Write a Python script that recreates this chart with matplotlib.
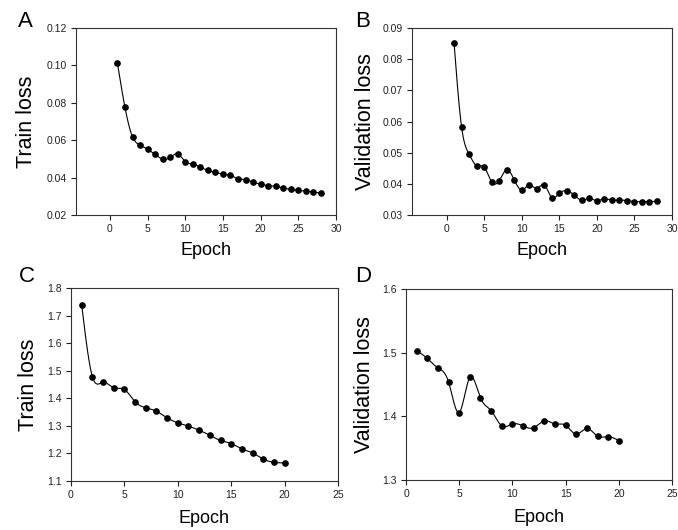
import numpy as np
import matplotlib
matplotlib.use("Agg")
import matplotlib.pyplot as plt

plt.rcParams['font.family'] = ['Liberation Sans', 'DejaVu Sans']

# ---- data ----
epochs_a = list(range(1, 29))
train_loss_a = [0.1011, 0.0775, 0.0618, 0.0574, 0.0551, 0.0524, 0.0499, 0.0508,
                0.0527, 0.0486, 0.0472, 0.0456, 0.0438, 0.0428, 0.0419, 0.0412,
                0.0394, 0.0389, 0.0376, 0.0365, 0.0357, 0.0353, 0.0344, 0.0337,
                0.0332, 0.0328, 0.0323, 0.0317]

epochs_b = list(range(1, 29))
val_loss_b = [0.0851, 0.0582, 0.0495, 0.0458, 0.0454, 0.0406, 0.0410, 0.0445,
              0.0413, 0.0380, 0.0396, 0.0385, 0.0397, 0.0356, 0.0370, 0.0377,
              0.0364, 0.0347, 0.0353, 0.0346, 0.0352, 0.0347, 0.0348, 0.0346,
              0.0343, 0.0343, 0.0343, 0.0344]

epochs_c = list(range(1, 21))
train_loss_c = [1.739, 1.479, 1.458, 1.438, 1.432, 1.387, 1.366, 1.353, 1.329,
                1.311, 1.299, 1.284, 1.266, 1.247, 1.236, 1.216, 1.202, 1.179,
                1.168, 1.165]

epochs_d = list(range(1, 21))
val_loss_d = [1.503, 1.491, 1.476, 1.454, 1.406, 1.461, 1.429, 1.409, 1.385,
              1.388, 1.385, 1.382, 1.393, 1.388, 1.386, 1.372, 1.381, 1.369,
              1.368, 1.362]


def natural_spline(x, y, n=30):
    x = np.asarray(x, float)
    y = np.asarray(y, float)
    N = len(x)
    h = np.diff(x)
    A = np.zeros((N, N))
    r = np.zeros(N)
    A[0, 0] = 1
    A[-1, -1] = 1
    for i in range(1, N - 1):
        A[i, i - 1] = h[i - 1]
        A[i, i] = 2 * (h[i - 1] + h[i])
        A[i, i + 1] = h[i]
        r[i] = 6 * ((y[i + 1] - y[i]) / h[i] - (y[i] - y[i - 1]) / h[i - 1])
    M = np.linalg.solve(A, r)
    xs, ys = [], []
    for i in range(N - 1):
        t = np.linspace(x[i], x[i + 1], n, endpoint=False)
        a = x[i + 1] - t
        b = t - x[i]
        s = (M[i] * a ** 3 + M[i + 1] * b ** 3) / (6 * h[i]) \
            + (y[i] / h[i] - M[i] * h[i] / 6) * a \
            + (y[i + 1] / h[i] - M[i + 1] * h[i] / 6) * b
        xs.append(t)
        ys.append(s)
    xs.append([x[-1]])
    ys.append([y[-1]])
    return np.concatenate(xs), np.concatenate(ys)


fig = plt.figure(figsize=(6.78, 5.30), dpi=100)
W, H = 678, 530


def make_ax(l, t, r, b):
    return fig.add_axes([l / W, 1 - b / H, (r - l) / W, (b - t) / H])


panels = [
    (make_ax(76, 28, 336, 215), epochs_a, train_loss_a, "Train loss",
     (-4.5, 30), [0, 5, 10, 15, 20, 25, 30], (0.02, 0.12),
     np.arange(0.02, 0.121, 0.02), "{:.2f}", "A", (18, 27), (-0.15, -0.145)),
    (make_ax(412, 28, 672, 215), epochs_b, val_loss_b, "Validation loss",
     (-4.6, 30), [0, 5, 10, 15, 20, 25, 30], (0.03, 0.09),
     np.arange(0.03, 0.091, 0.01), "{:.2f}", "B", (355, 27), (-0.138, -0.145)),
    (make_ax(71, 288, 338, 481), epochs_c, train_loss_c, "Train loss",
     (0, 25), [0, 5, 10, 15, 20, 25], (1.1, 1.8),
     np.arange(1.1, 1.801, 0.1), "{:.1f}", "C", (19, 282), (-0.12, -0.15)),
    (make_ax(406, 289, 672, 480), epochs_d, val_loss_d, "Validation loss",
     (0, 25), [0, 5, 10, 15, 20, 25], (1.3, 1.6),
     np.arange(1.3, 1.601, 0.1), "{:.1f}", "D", (355, 282), (-0.117, -0.15)),
]

for (ax, xs, ys, ylab, xlim, xt, ylim, yt, fmt, letter, lpos, lab) in panels:
    sx, sy = natural_spline(xs, ys)
    ax.plot(sx, sy, color='black', lw=0.8)
    ax.plot(xs, ys, 'o', color='black', ms=3.8)
    ax.set_xlim(*xlim)
    ax.set_ylim(*ylim)
    ax.set_xticks(xt)
    ax.set_yticks(yt)
    ax.set_yticklabels([fmt.format(v) for v in yt])
    ax.tick_params(direction='out', length=3.5, width=0.8, labelsize=7.5,
                   top=False, right=False, pad=3, colors='#222222')
    for sp in ax.spines.values():
        sp.set_linewidth(0.8)
        sp.set_color('#333333')
    ax.set_ylabel(ylab, fontsize=15.5)
    ax.set_xlabel("Epoch", fontsize=13)
    ax.yaxis.set_label_coords(lab[0], 0.5)
    ax.xaxis.set_label_coords(0.5, lab[1])
    fig.text(lpos[0] / W, 1 - lpos[1] / H, letter, fontsize=16,
             ha='left', va='baseline')

fig.savefig("out.png", dpi=100)
